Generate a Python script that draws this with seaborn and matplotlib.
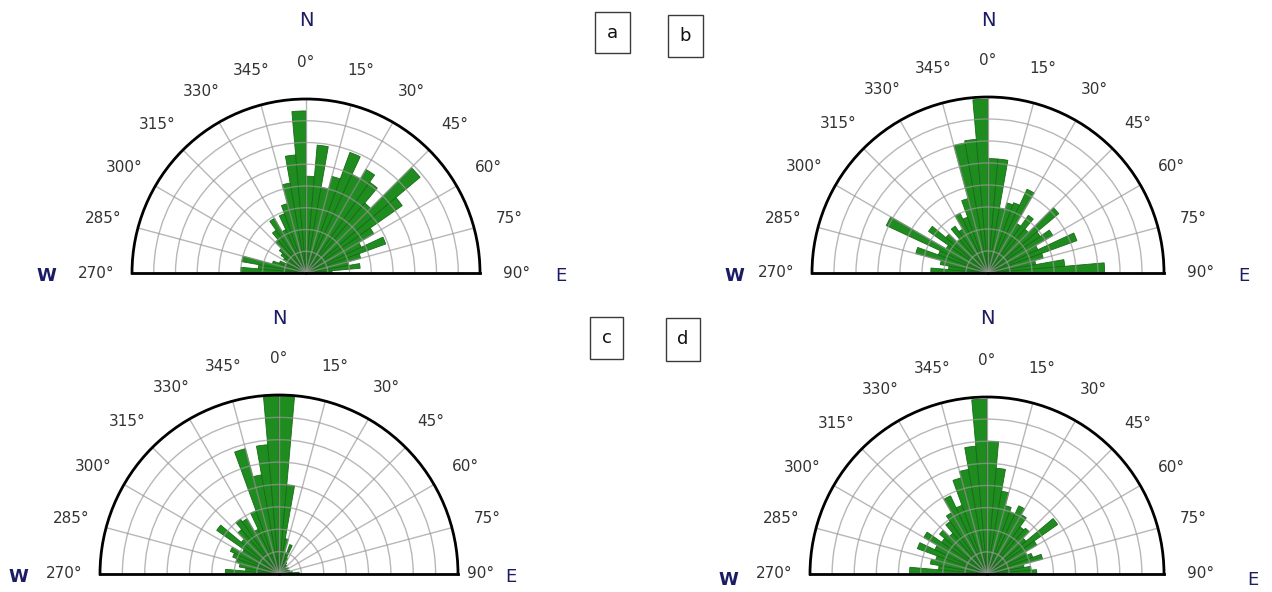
import numpy as np
import matplotlib
matplotlib.use("Agg")
import matplotlib.pyplot as plt
from matplotlib.patches import Rectangle
import seaborn as sns

sns.set_theme(style="white")
plt.rcParams["font.family"] = ["DejaVu Sans"]

# 5-degree azimuth bins, from 270° (west) round through north to 90° (east)
bin_starts = np.arange(-90, 90, 5)
tick_angles = np.arange(-90, 91, 15)
tick_labels = [f"{a % 360}°" for a in tick_angles]
ring_levels = np.arange(1, 8)

# bin lengths (ring units, outer circle = 8), ordered 270,275,...,355,0,5,...,85
rose_a = [3.0, 2.2, 3.0, 1.6, 1.3, 1.0, 1.2, 1.4, 1.6, 2.0, 2.4, 2.9, 2.2, 2.9, 3.3, 4.2, 5.45, 7.45,
          4.45, 5.9, 4.0, 4.6, 5.9, 5.0, 5.5, 5.1, 4.2, 6.85, 5.4, 3.6, 2.8, 3.9, 2.6, 2.0, 2.5, 1.2]
rose_b = [2.6, 1.8, 2.2, 3.4, 2.4, 5.1, 2.2, 3.3, 2.5, 2.0, 2.6, 2.3, 3.0, 2.7, 3.5, 6.0, 6.1, 7.9,
          5.2, 5.2, 3.0, 3.3, 3.4, 4.2, 2.6, 3.2, 2.6, 4.2, 2.9, 3.4, 2.5, 4.3, 2.6, 2.2, 3.5, 5.3]
rose_c = [2.4, 1.5, 1.8, 2.0, 2.2, 2.4, 1.9, 3.4, 2.2, 2.6, 3.0, 2.85, 2.2, 3.0, 5.8, 4.5, 5.8, 7.95,
          7.95, 4.0, 1.6, 1.0, 1.4, 0.8, 0.6, 0.5, 0.5, 0.4, 0.4, 0.5, 0.3, 0.4, 0.5, 0.4, 0.6, 0.9]
rose_d = [3.5, 2.2, 2.6, 2.4, 3.35, 2.6, 3.3, 2.5, 2.8, 2.4, 2.9, 3.2, 3.9, 3.3, 4.5, 4.8, 5.8, 7.9,
          6.0, 4.8, 3.8, 3.2, 3.0, 3.4, 3.1, 2.6, 2.7, 2.3, 3.9, 2.6, 2.0, 2.2, 2.6, 1.7, 2.0, 2.25]

panel_tags = ["a", "b", "c", "d"]

W, H = 1272, 592
fig = plt.figure(figsize=(W / 100, H / 100), dpi=100)
fig.patch.set_facecolor("white")

NAVY = "#1c1c64"
BAR_GREEN = "#1f8c1f"
BAR_EDGE = "#176b17"
GRID = "#999999"

# (centre x, centre y, radius) of each half-rose in pixels
geometry = [(306, 273, 174), (988, 273, 176), (279, 574, 179), (987, 574, 177)]
compass = [  # N, W, E label positions in pixels
    ((306, 21), (46, 276), (561, 276)),
    ((988, 21), (734, 276), (1244, 276)),
    ((279, 318), (18, 577), (511, 577)),
    ((987, 318), (728, 580), (1253, 580)),
]
tag_boxes = [(595, 12, 35, 41), (668, 15, 35, 42), (590, 317, 33, 42), (666, 318, 34, 43)]
# panel c keeps its 90° label tucked in against the arc
east_label_align = ["center", "center", "right", "center"]


def draw_rose(rect, values, east_ha):
    ax = fig.add_axes(rect, projection="polar")
    ax.set_theta_zero_location("N")
    ax.set_theta_direction(-1)
    ax.set_thetamin(-90)
    ax.set_thetamax(90)
    ax.set_ylim(0, 8)
    ax.bar(np.deg2rad(bin_starts), values, width=np.deg2rad(5), align="edge",
           color=BAR_GREEN, edgecolor=BAR_EDGE, linewidth=0.6, zorder=1)
    ax.set_axisbelow(False)
    ax.set_xticks(np.deg2rad(tick_angles), tick_labels)
    ax.set_yticks(ring_levels)
    ax.set_yticklabels([])
    ax.grid(True, color=GRID, linewidth=1.0, alpha=0.7, zorder=3)
    ax.tick_params(axis="x", length=0, pad=19, labelsize=11, labelcolor="#333333")
    ax.tick_params(axis="y", length=0)
    ax.get_xticklabels()[-1].set_horizontalalignment(east_ha)
    for name, sp in ax.spines.items():
        sp.set_color("black")
        sp.set_linewidth(2.0)
        sp.set_zorder(4)
    ax.set_facecolor("white")
    return ax


for (cx, cy, R), vals, (npos, wpos, epos), tag, box, e_ha in zip(
        geometry, [rose_a, rose_b, rose_c, rose_d], compass, panel_tags, tag_boxes,
        east_label_align):
    # the polar box is square; the half disc sits in its middle band
    rect = [(cx - R) / W, (H - cy - R / 2) / H, 2 * R / W, 2 * R / H]
    draw_rose(rect, vals, e_ha)
    fig.text(npos[0] / W, 1 - npos[1] / H, "N", color=NAVY, fontsize=14,
             ha="center", va="center")
    fig.text(wpos[0] / W, 1 - wpos[1] / H, "W", color=NAVY, fontsize=13,
             fontweight="bold", ha="center", va="center")
    fig.text(epos[0] / W, 1 - epos[1] / H, "E", color=NAVY, fontsize=13,
             ha="center", va="center")
    bx, by, bw, bh = box
    fig.add_artist(Rectangle((bx / W, 1 - (by + bh) / H), bw / W, bh / H,
                             transform=fig.transFigure, fill=False,
                             edgecolor="#3a3a3a", linewidth=1.0))
    fig.text((bx + bw / 2) / W, 1 - (by + bh / 2) / H, tag, fontsize=13,
             color="#111111", ha="center", va="center")

fig.savefig("out.png", dpi=100, facecolor="white")
